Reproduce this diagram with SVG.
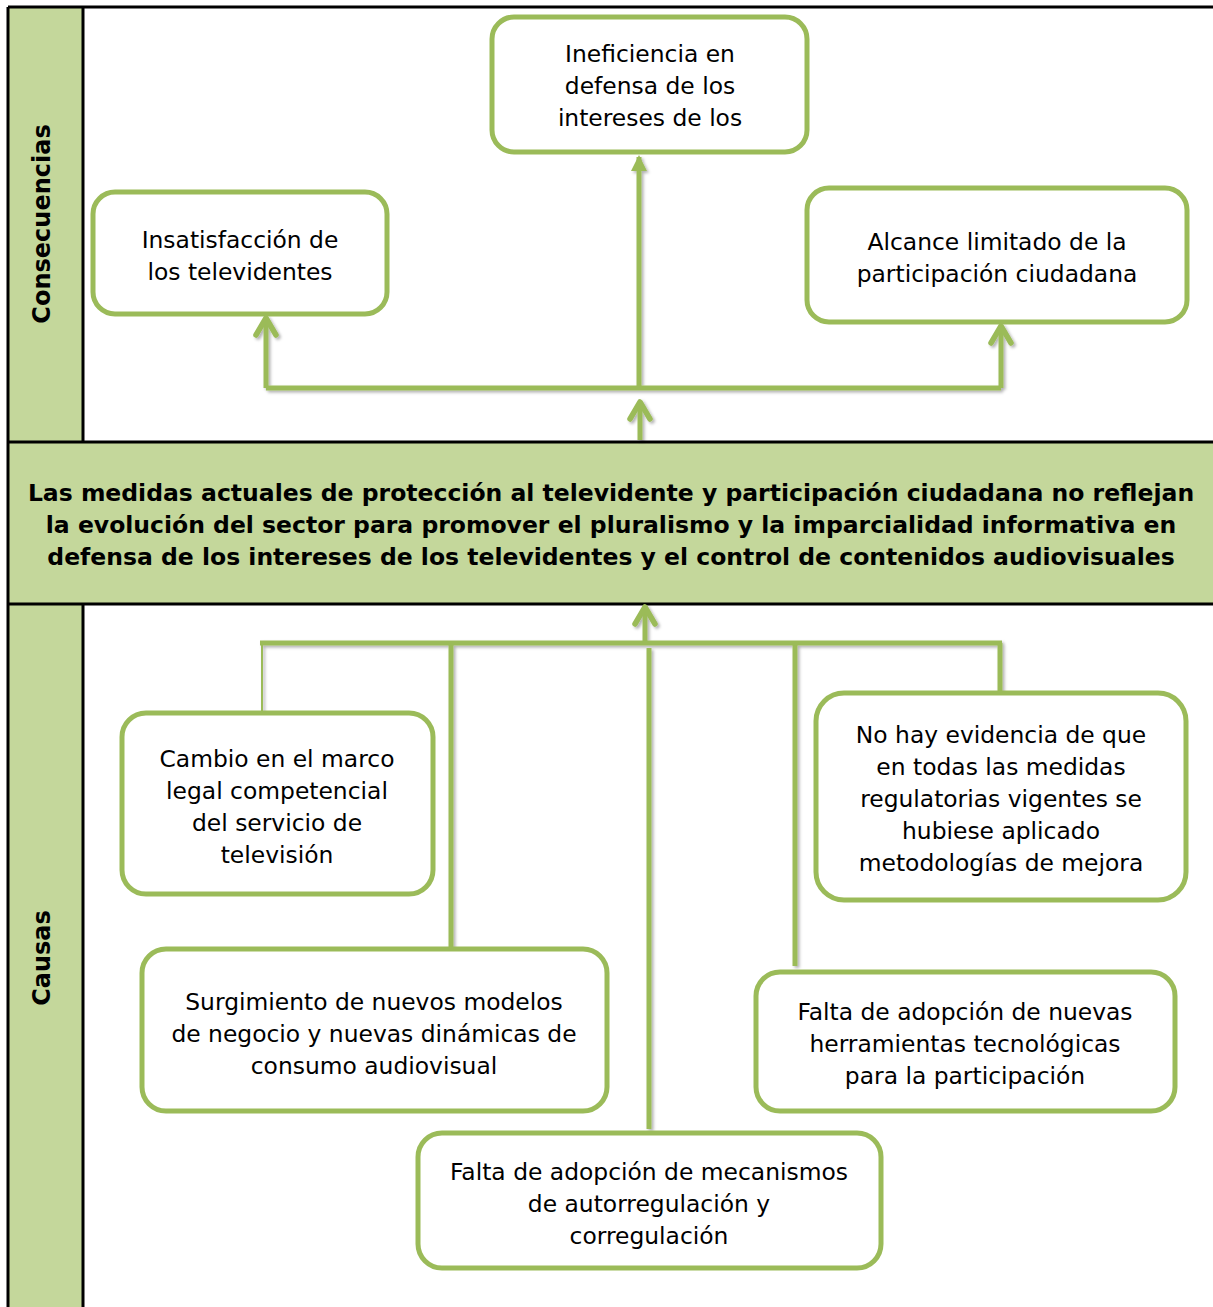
<svg xmlns="http://www.w3.org/2000/svg" width="1213" height="1307" viewBox="0 0 1213 1307">
<style>
.band{fill:#C4D79B;stroke:none}
.frame{stroke:#000;stroke-width:3;fill:none}
.box{fill:#fff;stroke:#9BBB59;stroke-width:5}
.t{font-family:"DejaVu Sans","Liberation Sans",sans-serif;font-size:23.4px;fill:#000;text-anchor:middle}
.b{font-family:"DejaVu Sans","Liberation Sans",sans-serif;font-size:23.5px;font-weight:bold;fill:#000;text-anchor:middle}
.side{font-family:"DejaVu Sans","Liberation Sans",sans-serif;font-size:24px;font-weight:bold;fill:#000;text-anchor:middle}
.c{stroke:#9BBB59;stroke-width:5;fill:none}
.thin{stroke:#9BBB59;stroke-width:2;fill:none}
</style>
<defs>
<filter id="sh" x="-20%" y="-20%" width="140%" height="140%">
<feDropShadow dx="2" dy="2" stdDeviation="1.5" flood-color="#000" flood-opacity="0.3"/>
</filter>
<marker id="chev" markerUnits="userSpaceOnUse" markerWidth="30" markerHeight="30" viewBox="-20 -15 30 30" refX="0" refY="0" orient="auto" overflow="visible">
<path d="M -17 -10 L 0 0 L -17 10" fill="none" stroke="#9BBB59" stroke-width="5.5" stroke-linecap="round" stroke-linejoin="round"/>
</marker>
<marker id="tri" markerUnits="userSpaceOnUse" markerWidth="30" markerHeight="30" viewBox="-20 -15 30 30" refX="0" refY="0" orient="auto" overflow="visible">
<path d="M -14 -8 L 2 0 L -14 8 Z" fill="#9BBB59"/>
</marker>
</defs>
<rect width="1213" height="1307" fill="#fff"/>
<g id="frame">
<rect class="band" x="8" y="7" width="75" height="1300"/>
<rect class="band" x="8" y="442" width="1205" height="162"/>
<line class="frame" x1="8" y1="7" x2="1213" y2="7"/>
<line class="frame" x1="8" y1="7" x2="8" y2="1307"/>
<line class="frame" x1="83" y1="7" x2="83" y2="442"/>
<line class="frame" x1="83" y1="604" x2="83" y2="1307"/>
<line class="frame" x1="8" y1="442" x2="1213" y2="442"/>
<line class="frame" x1="8" y1="604" x2="1213" y2="604"/>
</g>
<g id="label-consecuencias">
<text class="side" transform="translate(50,224) rotate(-90)">Consecuencias</text>
</g>
<g id="label-causas">
<text class="side" transform="translate(50,958) rotate(-90)">Causas</text>
</g>
<g id="connectors" filter="url(#sh)">
<path class="c" d="M 266 388 L 1001 388"/>
<path class="c" d="M 266 388 L 266 318" marker-end="url(#chev)"/>
<path class="c" d="M 639 388 L 639 157" marker-end="url(#tri)"/>
<path class="c" d="M 1001 388 L 1001 326" marker-end="url(#chev)"/>
<path class="c" d="M 640 440 L 640 402" marker-end="url(#chev)"/>
<path class="c" d="M 260 643 L 1002 643"/>
<path class="c" d="M 645 641 L 645 607" marker-end="url(#chev)"/>
<path class="thin" d="M 262 643 L 262 713"/>
<path class="c" d="M 451 643 L 451 948"/>
<path class="c" d="M 649 648 L 649 1129"/>
<path class="c" d="M 795 643 L 795 966"/>
<path class="c" d="M 1000 643 L 1000 692"/>
</g>
<g id="problem">
<text class="b" x="611" y="501">Las medidas actuales de protección al televidente y participación ciudadana no reflejan</text>
<text class="b" x="611" y="533">la evolución del sector para promover el pluralismo y la imparcialidad informativa en</text>
<text class="b" x="611" y="565">defensa de los intereses de los televidentes y el control de contenidos audiovisuales</text>
</g>
<g id="c-ineficiencia">
<rect class="box" x="492" y="17" width="315" height="135" rx="22"/>
<text class="t" x="650" y="62">Ineficiencia en</text>
<text class="t" x="650" y="94">defensa de los</text>
<text class="t" x="650" y="126">intereses de los</text>
</g>
<g id="c-insatisfaccion">
<rect class="box" x="93" y="192" width="294" height="122" rx="22"/>
<text class="t" x="240" y="248">Insatisfacción de</text>
<text class="t" x="240" y="280">los televidentes</text>
</g>
<g id="c-alcance">
<rect class="box" x="807" y="188" width="380" height="134" rx="22"/>
<text class="t" x="997" y="250">Alcance limitado de la</text>
<text class="t" x="997" y="282">participación ciudadana</text>
</g>
<g id="k-cambio">
<rect class="box" x="122" y="713" width="311" height="181" rx="24"/>
<text class="t" x="277" y="767">Cambio en el marco</text>
<text class="t" x="277" y="799">legal competencial</text>
<text class="t" x="277" y="831">del servicio de</text>
<text class="t" x="277" y="863">televisión</text>
</g>
<g id="k-evidencia">
<rect class="box" x="816" y="693" width="370" height="207" rx="28"/>
<text class="t" x="1001" y="743">No hay evidencia de que</text>
<text class="t" x="1001" y="775">en todas las medidas</text>
<text class="t" x="1001" y="807">regulatorias vigentes se</text>
<text class="t" x="1001" y="839">hubiese aplicado</text>
<text class="t" x="1001" y="871">metodologías de mejora</text>
</g>
<g id="k-surgimiento">
<rect class="box" x="142" y="949" width="465" height="162" rx="24"/>
<text class="t" x="374" y="1010">Surgimiento de nuevos modelos</text>
<text class="t" x="374" y="1042">de negocio y nuevas dinámicas de</text>
<text class="t" x="374" y="1074">consumo audiovisual</text>
</g>
<g id="k-herramientas">
<rect class="box" x="756" y="972" width="419" height="139" rx="24"/>
<text class="t" x="965" y="1020">Falta de adopción de nuevas</text>
<text class="t" x="965" y="1052">herramientas tecnológicas</text>
<text class="t" x="965" y="1084">para la participación</text>
</g>
<g id="k-mecanismos">
<rect class="box" x="418" y="1133" width="463" height="135" rx="24"/>
<text class="t" x="649" y="1180">Falta de adopción de mecanismos</text>
<text class="t" x="649" y="1212">de autorregulación y</text>
<text class="t" x="649" y="1244">corregulación</text>
</g>
</svg>
